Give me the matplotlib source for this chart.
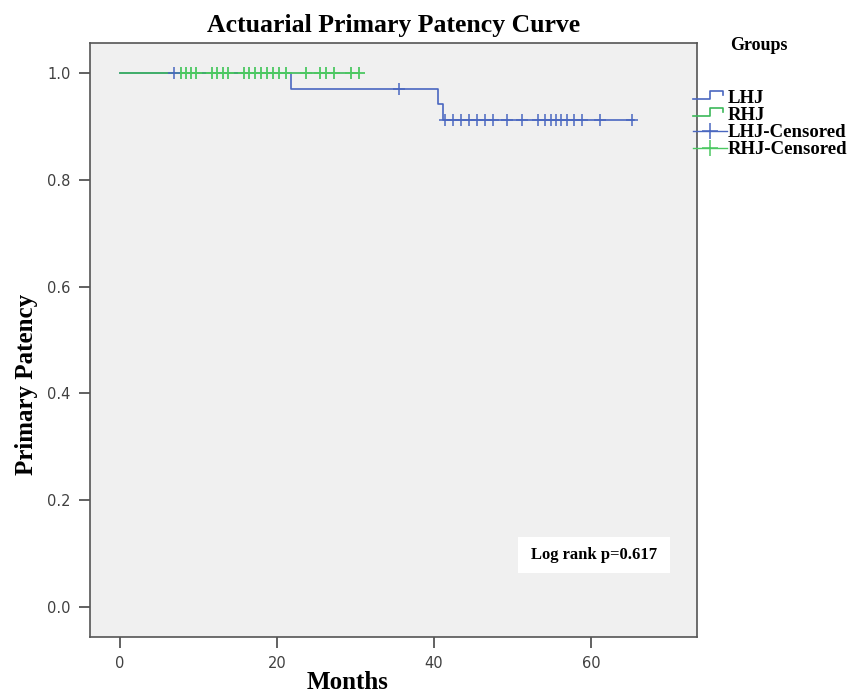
import numpy as np
import matplotlib
matplotlib.use("Agg")
import matplotlib.pyplot as plt
from matplotlib.lines import Line2D
from matplotlib.legend_handler import HandlerBase
from matplotlib.patches import Rectangle

# ---- data ----
lhj_step_times = [0, 21.8, 40.5, 41.1, 65.5]
lhj_step_surv = [1.0, 0.970, 0.942, 0.912, 0.912]
lhj_censored = [6.9, 35.5, 41.4, 42.4, 43.4, 44.5, 45.5, 46.5, 47.5, 49.3, 51.2,
                53.2, 54.1, 54.9, 55.5, 56.2, 56.9, 57.8, 58.8, 61.1, 65.2]

rhj_step_times = [0, 30.5]
rhj_step_surv = [1.0, 1.0]
rhj_censored = [7.8, 8.4, 9.0, 9.7, 11.8, 12.4, 13.1, 13.8, 15.8, 16.5, 17.2, 18.0,
                18.7, 19.5, 20.3, 21.2, 23.7, 25.5, 26.3, 27.3, 29.5, 30.4]

x_ticks = [0, 20, 40, 60]
y_ticks = [0.0, 0.2, 0.4, 0.6, 0.8, 1.0]
group_labels = ["LHJ", "RHJ", "LHJ-Censored", "RHJ-Censored"]
p_text = "Log rank p=0.617"

BLUE = "#4a67c0"
GREEN = "#3cb95a"
GREEN_C = "#4cc862"
SERIF = "Liberation Serif"


def surv_at(times, surv, t):
    idx = np.searchsorted(times, t, side="right") - 1
    return np.asarray(surv)[idx]


fig = plt.figure(figsize=(8.6, 6.95), dpi=100)
ax = fig.add_axes([90 / 860, 1 - 637 / 695, 607 / 860, 594 / 695])
ax.set_facecolor("#f0f0f0")

ax.step(lhj_step_times, lhj_step_surv, where="post", color=BLUE, lw=1.2, zorder=2)
ax.step(rhj_step_times, rhj_step_surv, where="post", color=GREEN, lw=1.2, zorder=3)
ax.plot(rhj_censored, surv_at(rhj_step_times, rhj_step_surv, rhj_censored),
        ls="none", marker="+", ms=8, mew=1.3, color=GREEN_C, zorder=4)
ax.plot(lhj_censored, surv_at(lhj_step_times, lhj_step_surv, lhj_censored),
        ls="none", marker="+", ms=8, mew=1.1, color=BLUE, zorder=5)

ax.set_xlim(-3.8, 73.5)
ax.set_ylim(-0.056, 1.056)
ax.set_xticks(x_ticks)
ax.set_yticks(y_ticks)
ax.set_yticklabels([f"{v:.1f}" for v in y_ticks])
ax.tick_params(axis="both", direction="out", length=8, width=1.3, color="#555555",
               labelsize=10.5, labelcolor="#404040", pad=6)
for sp in ax.spines.values():
    sp.set_color("#555555")
    sp.set_linewidth(1.2)

ax.set_title("Actuarial Primary Patency Curve", fontfamily=SERIF, fontweight="bold",
             fontsize=18.5, pad=8)
ax.set_xlabel("Months", fontfamily=SERIF, fontweight="bold", fontsize=18, va="center")
ax.set_ylabel("Primary Patency", fontfamily=SERIF, fontweight="bold", fontsize=18,
              va="center")
ax.xaxis.set_label_coords(0.424, -0.077)
ax.yaxis.set_label_coords(-0.104, 0.426)

# log-rank box
ax.add_patch(Rectangle((0.705, 0.108), 0.25, 0.06, transform=ax.transAxes,
                       facecolor="white", edgecolor="none", zorder=6))
ax.text(0.83, 0.138, p_text, transform=ax.transAxes, ha="center", va="center",
        fontfamily=SERIF, fontweight="bold", fontsize=12, zorder=7)


class HandlerStep(HandlerBase):
    def create_artists(self, legend, orig_handle, xdescent, ydescent, width,
                       height, fontsize, trans):
        h = height
        xs = [0, 0.5 * width, 0.5 * width, 0.9 * width, 0.9 * width]
        ys = [0.3 * h, 0.3 * h, 0.9 * h, 0.9 * h, 0.65 * h]
        ln = Line2D(np.array(xs) - xdescent, np.array(ys) - ydescent,
                    color=orig_handle.get_color(), lw=1.2, transform=trans)
        return [ln]


h_lhj = Line2D([], [], color=BLUE)
h_rhj = Line2D([], [], color=GREEN)
h_lhjc = Line2D([], [], color=BLUE, marker="+", ms=12, mew=1.1, lw=1.0)
h_rhjc = Line2D([], [], color=GREEN_C, marker="+", ms=12, mew=1.1, lw=1.0)

fig.text(730 / 860, 1 - 45 / 695, "Groups", fontfamily=SERIF, fontweight="bold",
         fontsize=13, va="center", ha="left")
fig.legend([h_lhj, h_rhj, h_lhjc, h_rhjc], group_labels,
           handler_map={h_lhj: HandlerStep(), h_rhj: HandlerStep()},
           loc="upper left", bbox_to_anchor=(693 / 860, 1 - 90 / 695),
           frameon=False, borderaxespad=0, borderpad=0, handlelength=1.8,
           handletextpad=0.05, labelspacing=0.0,
           prop={"family": SERIF, "weight": "bold", "size": 13.5})

fig.savefig("out.png", dpi=100)
